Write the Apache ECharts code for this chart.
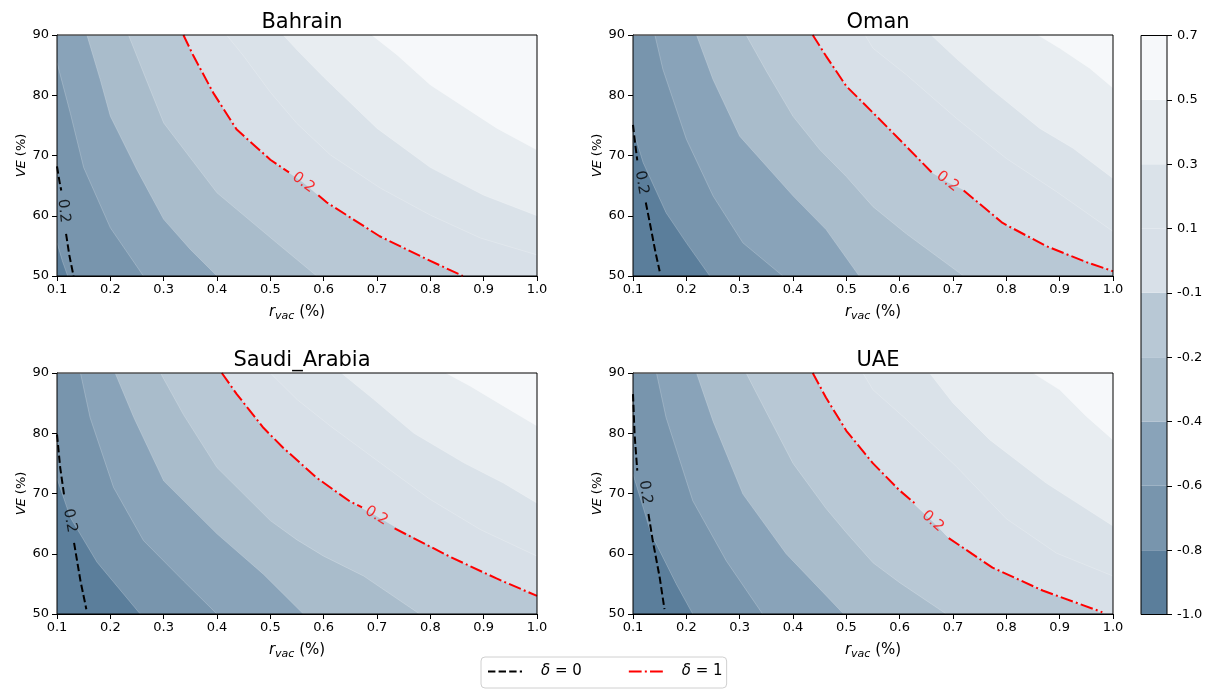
<!DOCTYPE html>
<html>
<head>
<meta charset="utf-8">
<script src="https://cdn.jsdelivr.net/npm/echarts@6/dist/echarts.min.js"></script>
<style>
  html, body { margin: 0; padding: 0; background: #fff; }
  #main { width: 1218px; height: 689px; }
</style>
</head>
<body>
<div id="main"></div>
<script>
// contour levels of the filled plot (colorbar tick labels)
const levels = ['-1.0', '-0.8', '-0.6', '-0.4', '-0.2', '-0.1', '0.1', '0.3', '0.5', '0.7'];
const countries = ['Bahrain', 'Oman', 'Saudi_Arabia', 'UAE'];

// boundaries between filled bands, level -0.8 .. 0.5, points [r_vac, VE]
const bahrainBounds = [
  [[0.1, 55.5], [0.11, 52.5], [0.12, 50]],
  [[0.1, 85.4], [0.125, 77], [0.15, 68], [0.2, 58], [0.262, 50]],
  [[0.156, 90], [0.181, 82.6], [0.2, 76.5], [0.25, 67.6], [0.3, 59.4], [0.35, 54.4], [0.4, 50]],
  [[0.234, 90], [0.27, 82], [0.3, 75.4], [0.4, 63.8], [0.512, 55.5], [0.587, 50]],
  [[0.337, 90], [0.356, 86.5], [0.393, 80.4], [0.437, 74.3], [0.5, 69.3], [0.562, 65.5], [0.606, 62.2], [0.705, 56.6], [0.793, 52.8], [0.861, 50]],
  [[0.418, 90], [0.45, 86.5], [0.5, 80.5], [0.55, 75.3], [0.6125, 70.1], [0.706, 64.6], [0.8, 60.1], [0.894, 56.3], [1.0, 53.5]],
  [[0.524, 90], [0.55, 87.5], [0.6, 83], [0.7, 74.5], [0.8, 68], [0.9, 63.4], [1.0, 60]],
  [[0.69, 90], [0.7375, 86.7], [0.8, 81.7], [0.8625, 78.1], [0.925, 74.5], [1.0, 70.9]]
];
const omanBounds = [
  [[0.1, 74.3], [0.119, 68.8], [0.162, 60.5], [0.2, 55.5], [0.244, 50]],
  [[0.141, 90], [0.156, 84.3], [0.2, 72.7], [0.25, 63.3], [0.306, 55.5], [0.381, 50]],
  [[0.219, 90], [0.25, 82.6], [0.3, 73.2], [0.4, 63.3], [0.462, 57.7], [0.524, 50]],
  [[0.312, 90], [0.35, 84], [0.4, 76.5], [0.45, 71], [0.5, 66.5], [0.55, 61.5], [0.6125, 57], [0.72, 50]],
  [[0.437, 90], [0.462, 86.5], [0.5, 81.5], [0.55, 77.1], [0.606, 72.1], [0.662, 67.1], [0.69, 65.6], [0.718, 64.4], [0.793, 58.8], [0.874, 55], [1.0, 50.8]],
  [[0.535, 90], [0.55, 87.8], [0.6125, 83.4], [0.706, 76.2], [0.8, 69.5], [0.894, 64], [1.0, 57.4]],
  [[0.659, 90], [0.706, 86.1], [0.769, 81.2], [0.8625, 74.5], [0.925, 71.2], [1.0, 66.2]],
  [[0.859, 90], [0.9, 87.8], [0.956, 84.5], [1.0, 81.2]]
];
const saudiBounds = [
  [[0.1, 72.5], [0.125, 66], [0.175, 58.6], [0.256, 50]],
  [[0.144, 90], [0.162, 82.6], [0.206, 71], [0.262, 62.2], [0.337, 55.5], [0.4, 50]],
  [[0.209, 90], [0.244, 82.6], [0.3, 72.1], [0.4, 63.3], [0.487, 56.6], [0.562, 50]],
  [[0.294, 90], [0.337, 83.1], [0.4, 74.3], [0.5, 65.5], [0.55, 62.3], [0.6, 59.6], [0.675, 56.3], [0.78, 50]],
  [[0.409, 90], [0.437, 86.5], [0.487, 80.9], [0.524, 77.6], [0.587, 72.6], [0.649, 68.7], [0.697, 66.4], [0.737, 64.3], [0.837, 59.5], [0.924, 55.9], [1.0, 53]],
  [[0.5, 90], [0.55, 85.6], [0.6125, 81.2], [0.706, 75.1], [0.8, 69], [0.894, 64], [1.0, 59.6]],
  [[0.633, 90], [0.694, 85.6], [0.769, 80], [0.8625, 75.1], [0.9375, 71.7], [1.0, 68.4]],
  [[0.829, 90], [0.875, 87.8], [0.9375, 84.5], [1.0, 81.2]]
];
const uaeBounds = [
  [[0.1, 73.2], [0.134, 63.3], [0.181, 55], [0.212, 50]],
  [[0.144, 90], [0.162, 82.6], [0.212, 68.8], [0.275, 58.8], [0.343, 50]],
  [[0.219, 90], [0.25, 82], [0.306, 69.9], [0.387, 60], [0.495, 50]],
  [[0.312, 90], [0.35, 83.5], [0.4, 75], [0.462, 67.5], [0.5, 63.5], [0.55, 58.5], [0.6, 55.2], [0.6875, 50]],
  [[0.437, 90], [0.462, 85.9], [0.5, 80.4], [0.55, 75], [0.6, 70.5], [0.664, 65.2], [0.69, 62.8], [0.774, 57.7], [0.868, 53.9], [0.985, 50]],
  [[0.531, 90], [0.55, 87.2], [0.6125, 82.3], [0.706, 74.5], [0.8, 65.8], [0.894, 60.1], [1.0, 56.3]],
  [[0.656, 90], [0.7, 85], [0.769, 78.9], [0.875, 71.7], [1.0, 64.6]],
  [[0.85, 90], [0.9, 87.2], [0.95, 82.8], [1.0, 78.9]]
];

// contour lines at 0.2 for delta = 0 and delta = 1 (null = gap for the inline label)
const bahrainDelta0 = [[0.1, 68.2], [0.105, 65.5], [0.108, 64.2], null, [0.117, 57], [0.123, 53.5], [0.131, 50]];
const bahrainDelta1 = [[0.337, 90], [0.356, 86.5], [0.393, 80.4], [0.437, 74.3], [0.5, 69.3], [0.535, 67.2], null, [0.59, 63.4], [0.606, 62.2], [0.705, 56.6], [0.793, 52.8], [0.861, 50]];
const omanDelta0 = [[0.1, 75.1], [0.104, 72], [0.108, 69.2], null, [0.124, 62.2], [0.134, 57.7], [0.142, 54], [0.15, 50.8]];
const omanDelta1 = [[0.437, 90], [0.462, 86.5], [0.5, 81.5], [0.55, 77.1], [0.606, 72.1], [0.66, 67.2], null, [0.72, 64.2], [0.793, 58.8], [0.874, 55], [0.95, 52.3], [1.0, 50.8]];
const saudiDelta0 = [[0.1, 79.8], [0.106, 74.3], [0.114, 69.3], null, [0.132, 61.8], [0.144, 55.5], [0.155, 50.8]];
const saudiDelta1 = [[0.409, 90], [0.437, 86.5], [0.487, 80.9], [0.524, 77.6], [0.587, 72.6], [0.649, 68.7], [0.672, 67.7], null, [0.733, 64.2], [0.837, 59.5], [0.924, 55.9], [1.0, 53]];
const uaeDelta0 = [[0.1, 86.5], [0.103, 79.8], [0.108, 73.8], null, [0.129, 66.6], [0.137, 62.2], [0.15, 56.1], [0.159, 50.8]];
const uaeDelta1 = [[0.437, 90], [0.462, 85.9], [0.5, 80.4], [0.55, 75], [0.6, 70.5], [0.628, 68.4], null, [0.692, 62.6], [0.774, 57.7], [0.868, 53.9], [0.98, 50.3]];

// where the "0.2" labels sit
const labelPos0 = [[0.1125, 60.8], [0.116, 65.5], [0.124, 65.5], [0.123, 70.2]];
const labelPos1 = [[0.562, 65.5], [0.69, 65.7], [0.699, 66.3], [0.662, 65.4]];

const X_MIN = 0.1, X_MAX = 1.0, Y_MIN = 50, Y_MAX = 90;
const FONT = 'DejaVu Sans';
const bandColors = ['#5b7e9b', '#7895ad', '#89a3b9', '#a9bccb', '#b8c8d5', '#d8e0e8', '#dae2e9', '#e8edf1', '#f6f8fa'];

const panels = [
  { bounds: bahrainBounds, d0: bahrainDelta0, d1: bahrainDelta1, rot0: -84, rot1: -37, left: 57, top: 35 },
  { bounds: omanBounds, d0: omanDelta0, d1: omanDelta1, rot0: -80, rot1: -38, left: 633, top: 35 },
  { bounds: saudiBounds, d0: saudiDelta0, d1: saudiDelta1, rot0: -80, rot1: -31, left: 57, top: 373 },
  { bounds: uaeBounds, d0: uaeDelta0, d1: uaeDelta1, rot0: -82, rot1: -42, left: 633, top: 373 }
];
const PW = 480, PH = 241;

// a band boundary that starts on the top edge: run along the top edge from the left corner
function fillPath(pts) {
  if (pts[0][1] >= Y_MAX && pts[0][0] > X_MIN) return [[X_MIN, Y_MAX]].concat(pts);
  return pts;
}
function splitGaps(pts) {
  let out = [[]];
  pts.forEach(p => { if (p) out[out.length - 1].push(p); else out.push([]); });
  return out;
}

let grids = [], xAxes = [], yAxes = [], series = [], titles = [];

panels.forEach((p, i) => {
  grids.push({ left: p.left, top: p.top, width: PW, height: PH, show: true, borderColor: '#000', borderWidth: 1, backgroundColor: 'transparent', z: 10 });
  titles.push({
    text: countries[i], left: p.left + PW / 2, top: p.top - 28, textAlign: 'center',
    textStyle: { fontFamily: FONT, fontSize: 21, fontWeight: 'normal', color: '#000' }
  });
  xAxes.push({
    type: 'value', gridIndex: i, min: X_MIN, max: X_MAX, interval: 0.1,
    axisLine: { show: true, lineStyle: { color: '#000', width: 1 } },
    axisTick: { show: true, length: 5, lineStyle: { color: '#000' } },
    axisLabel: { formatter: v => v.toFixed(1), fontFamily: FONT, fontSize: 13, color: '#000', margin: 7 },
    splitLine: { show: false },
    name: '{i|r}{s|vac} (%)', nameLocation: 'middle', nameGap: 27,
    nameTextStyle: {
      fontFamily: FONT, fontSize: 15, color: '#000',
      rich: {
        i: { fontFamily: FONT, fontSize: 15, fontStyle: 'italic', color: '#000' },
        s: { fontFamily: FONT, fontSize: 11, fontStyle: 'italic', color: '#000', padding: [8, 0, 0, 0] }
      }
    }
  });
  yAxes.push({
    type: 'value', gridIndex: i, min: Y_MIN, max: Y_MAX, interval: 10,
    axisLine: { show: true, lineStyle: { color: '#000', width: 1 } },
    axisTick: { show: true, length: 5, lineStyle: { color: '#000' } },
    axisLabel: { fontFamily: FONT, fontSize: 13, color: '#000', margin: 8 },
    splitLine: { show: false },
    name: '{i|VE} (%)', nameLocation: 'middle', nameGap: 18,
    nameTextStyle: {
      fontFamily: FONT, fontSize: 13, color: '#000',
      rich: { i: { fontFamily: FONT, fontSize: 13, fontStyle: 'italic', color: '#000' } }
    }
  });

  // lightest band fills the whole panel, then darker bands on top
  series.push({
    type: 'line', xAxisIndex: i, yAxisIndex: i, silent: true, symbol: 'none', z: 1,
    data: [[X_MIN, Y_MAX], [X_MAX, Y_MAX]],
    lineStyle: { width: 0 },
    areaStyle: { color: bandColors[8], opacity: 1, origin: 'start' }
  });
  for (let k = p.bounds.length - 1; k >= 0; k--) {
    series.push({
      type: 'line', xAxisIndex: i, yAxisIndex: i, silent: true, symbol: 'none', z: 1,
      data: fillPath(p.bounds[k]),
      lineStyle: { width: 0.6, color: 'rgba(255,255,255,0.35)' },
      areaStyle: { color: bandColors[k], opacity: 1, origin: 'start' }
    });
  }

  splitGaps(p.d0).forEach(seg => series.push({
    name: 'δ = 0', type: 'line', xAxisIndex: i, yAxisIndex: i, symbol: 'none', silent: true, z: 3,
    data: seg, itemStyle: { color: '#000' }, lineStyle: { color: '#000', width: 2, type: [7.4, 3.2] }
  }));
  splitGaps(p.d1).forEach(seg => series.push({
    name: 'δ = 1', type: 'line', xAxisIndex: i, yAxisIndex: i, symbol: 'none', silent: true, z: 3,
    data: seg, itemStyle: { color: '#ff0000' }, lineStyle: { color: '#ff0000', width: 2, type: [12.8, 3.2, 2, 3.2] }
  }));
  [[labelPos0[i], p.rot0, '#000'], [labelPos1[i], p.rot1, '#ff0000']].forEach(([pos, rot, col]) => {
    series.push({
      type: 'scatter', xAxisIndex: i, yAxisIndex: i, silent: true, z: 4,
      data: [pos], symbolSize: 1, itemStyle: { color: 'transparent' },
      label: { show: true, position: 'inside', formatter: '0.2', rotate: rot, color: col, fontFamily: FONT, fontSize: 15 }
    });
  });
});

// colorbar
const cb = panels.length;
grids.push({ left: 1141, top: 35.5, width: 26, height: 579, show: true, borderColor: '#000', borderWidth: 1, backgroundColor: 'transparent', z: 10 });
xAxes.push({ type: 'category', gridIndex: cb, data: ['cb'], show: false });
yAxes.push({
  type: 'value', gridIndex: cb, min: 0, max: levels.length - 1, interval: 1, position: 'right',
  axisLine: { show: false },
  axisTick: { show: true, length: 5, lineStyle: { color: '#000' } },
  axisLabel: { formatter: v => levels[v], fontFamily: FONT, fontSize: 13, color: '#000', margin: 10 },
  splitLine: { show: false }
});
bandColors.forEach(c => series.push({
  type: 'bar', xAxisIndex: cb, yAxisIndex: cb, stack: 'cb', silent: true,
  data: [1], barWidth: '100%', itemStyle: { color: c }
}));

const option = {
  animation: false,
  backgroundColor: '#fff',
  title: titles,
  grid: grids,
  xAxis: xAxes,
  yAxis: yAxes,
  legend: {
    data: [
      { name: 'δ = 0', itemStyle: { opacity: 0 } },
      { name: 'δ = 1', itemStyle: { opacity: 0 } }
    ],
    left: 481, top: 657,
    itemWidth: 34, itemHeight: 14, itemGap: 46,
    padding: [7, 4, 9, 6],
    borderColor: '#d0d0d0', borderWidth: 1, borderRadius: 4,
    formatter: n => n === 'δ = 0' ? '{d|δ} = 0' : '{d|δ} = 1',
    textStyle: {
      fontFamily: FONT, fontSize: 15, color: '#000', padding: [0, 0, 0, 14],
      rich: { d: { fontFamily: FONT, fontSize: 15, fontStyle: 'italic', color: '#000' } }
    }
  },
  series: series
};

const chart = echarts.init(document.getElementById('main'), null, { renderer: 'canvas' });
chart.setOption(option);
</script>
</body>
</html>
